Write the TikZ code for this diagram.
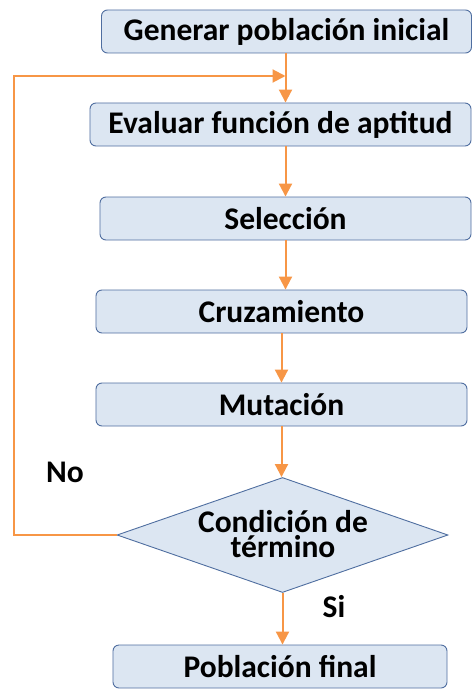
\documentclass[tikz,border=0pt]{standalone}
\usepackage{fontspec}
\setmainfont{Carlito}
\usetikzlibrary{shapes.geometric,arrows.meta}
\definecolor{boxfill}{RGB}{220,230,242}
\definecolor{boxline}{RGB}{79,110,160}
\definecolor{arrowc}{RGB}{247,150,70}
\begin{document}
\begin{tikzpicture}[x=1bp,y=-1bp,
  stepbox/.style={draw=boxline,line width=0.9bp,fill=boxfill,rounded corners=6bp,
    minimum height=43bp,inner sep=0pt,font=\fontsize{31.5bp}{34bp}\selectfont\bfseries},
  flow/.style={draw=arrowc,line width=2bp,-{Triangle[width=13bp,length=13bp]}},
  lbl/.style={font=\fontsize{31.5bp}{34bp}\selectfont\bfseries,inner sep=0pt}]
\useasboundingbox (0,0) rectangle (472,689);
\node[stepbox,minimum width=370bp] (gen) at (286.5,31.5) {Generar población inicial};
\node[stepbox,minimum width=381bp] (eval) at (280.5,124.5) {Evaluar función de aptitud};
\node[stepbox,minimum width=371bp] (sel) at (285.5,218.5) {Selección};
\node[stepbox,minimum width=371bp] (cruz) at (281.5,311.5) {Cruzamiento};
\node[stepbox,minimum width=371bp] (mut) at (281.5,404.5) {Mutación};
\node[draw=boxline,line width=0.9bp,fill=boxfill,diamond,minimum width=331bp,minimum height=115bp,inner sep=0pt] (cond) at (282.5,535) {};
\node[lbl,align=center,font=\fontsize{31.5bp}{25bp}\selectfont\bfseries] (condt) at (283,534) {Condición de\\término};
\node[stepbox,minimum width=334bp] (fin) at (280,666.5) {Población final};
\node[lbl] (no) at (65,472) {No};
\node[lbl] (si) at (334,607) {Si};
\coordinate (merge) at (285.5,76);
\coordinate (loopx) at (14,76);
\draw[flow] (gen.south -| merge) -- (eval.north -| merge);
\draw[flow] (eval.south -| sel.south) -- (sel.north);
\draw[flow] (sel.south) -- (sel.south |- cruz.north);
\draw[flow] (cruz.south) -- (cruz.south |- mut.north);
\draw[flow] (mut.south) -- (mut.south |- cond.north);
\draw[flow] (cond.south) -- (cond.south |- fin.north);
\draw[flow] (cond.west) -- (cond.west -| loopx) -- (loopx) -- (merge);
\end{tikzpicture}
\end{document}
